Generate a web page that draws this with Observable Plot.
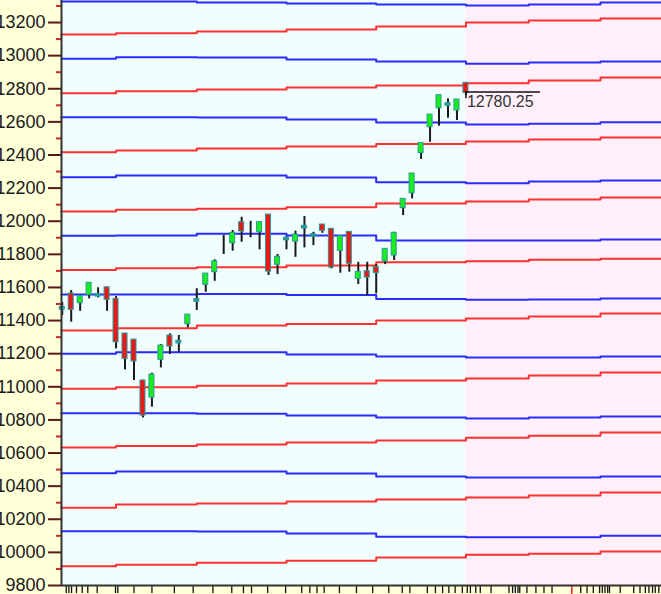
<!DOCTYPE html>
<html><head><meta charset="utf-8">
<script src="https://cdn.jsdelivr.net/npm/d3@7"></script>
<script src="https://cdn.jsdelivr.net/npm/@observablehq/plot@0.6"></script>
<style>
html,body{margin:0;padding:0;background:#ffffd8;overflow:hidden;}
#chart svg{display:block;}
</style></head><body><div id="chart"></div>
<script>
// ---- candle data (index 0..45) ----
const opens  = [11472,11557,11511,11561,11551,11595,11525,11316,11279,11032,10941,11169,11304,11268,11384,11520,11622,11698,11912,11873,11988,11960,11940,12034,11743,11891,11883,11962,11912,11974,11948,11827,11930,11658,11692,11718,11763,11799,12085,12175,12417,12574,12688,12703,12675,12830];
const highs  = [11509,11581,11541,11622,11598,11600,11545,11320,11285,11040,11082,11255,11320,11310,11430,11592,11678,11767,11914,11944,12024,11999,11988,12034,11799,11907,11940,12028,11933,11980,11954,11903,11935,11752,11752,11738,11827,11933,12129,12286,12467,12638,12755,12739,12729,12830];
const lows   = [11430,11390,11456,11531,11537,11456,11229,11102,11038,10812,10877,11114,11195,11209,11356,11461,11571,11637,11799,11819,11873,11900,11827,11672,11678,11827,11782,11839,11853,11927,11712,11686,11692,11618,11551,11561,11738,11763,12034,12135,12373,12477,12574,12622,12608,12759];
const closes = [11476,11471,11541,11622,11554,11531,11275,11175,11159,10832,11068,11243,11249,11272,11430,11524,11678,11752,11912,11924,11944,11960,11988,11702,11779,11895,11914,11966,11916,11948,11726,11903,11749,11688,11666,11692,11827,11924,12129,12282,12467,12638,12755,12707,12729,12780.25];

// ---- support / resistance lines: values at anchor indices ----
const lineAnchors = [-0.1, 6, 15, 25, 35, 45, 52, 60];
const blueLines = [
  [13327,13327,13321,13315,13309,13303,13309,13321],
  [12981,12990,12989,12977,12964,12951,12958,12964],
  [12628,12628,12626,12614,12596,12584,12588,12598],
  [12266,12276,12276,12264,12235,12229,12240,12246],
  [11912,11914,11924,11914,11883,11883,11883,11889],
  [11557,11557,11561,11555,11531,11525,11527,11533],
  [11199,11209,11209,11195,11183,11177,11177,11183],
  [10840,10840,10838,10826,10814,10808,10814,10820],
  [10478,10488,10488,10476,10458,10452,10452,10458],
  [10127,10127,10126,10114,10095,10091,10091,10101]
];
const redLines = [
  [13128,13135,13146,13158,13176,13200,13212,13224],
  [12773,12785,12795,12807,12819,12833,12850,12868],
  [12417,12427,12439,12451,12467,12481,12493,12505],
  [12058,12069,12075,12084,12107,12119,12131,12143],
  [11706,11716,11722,11732,11752,11758,11767,11773],
  [11340,11354,11370,11380,11400,11412,11424,11442],
  [10988,10997,11007,11020,11038,11050,11068,11086],
  [10633,10643,10651,10663,10675,10693,10705,10724],
  [10269,10289,10295,10307,10319,10331,10343,10361],
  [9916,9926,9938,9950,9969,9985,9991,10005]
];

// ---- axes ----
const yTicks = [9800,10000,10200,10400,10600,10800,11000,11200,11400,11600,11800,12000,12200,12400,12600,12800,13000,13200];
const yMinorTicks = [9900,10100,10300,10500,10700,10900,11100,11300,11500,11700,11900,12100,12300,12500,12700,12900,13100,13300];
const xTicks = [0.45,0.74,1.04,1.59,2.23,2.85,3.9,5.94,6.2,8,10,12.5,14.6,16.8,18.9,20.2,21.1,22.9,24.9,26.7,27.6,28.4,29.2,30.9,32.8,34.6,36.4,37.9,38.75,40.7,41.6,42.4,43.1,43.8,44.6,45.15,45.5,46.1,46.6,47.8,49.8,50.2,50.5,50.8,51.0,51.8,52.8,53.7,54.6,57.8,58.5,59.2,59.9,60.2,60.5,60.8,61.0,62.2,63.7,64.4,65.0,65.4,65.8,66.1,66.5];
const xRedTick = [56.8];
const xDomain = [-0.08, 66.8];
const yDomain = [9800, 13333];

const candles = opens.map((o, i) => ({i, o, h: highs[i], l: lows[i], c: closes[i]}));
const last = candles[candles.length - 1];

function toPoints(arr, prefix) {
  const pts = [];
  arr.forEach((vals, k) => {
    vals.forEach((v, j) => pts.push({x: lineAnchors[j], y: v, s: prefix + k}));
    pts.push({x: xDomain[1] + 0.2, y: vals[vals.length - 1], s: prefix + k});
  });
  return pts;
}
const bluePts = toPoints(blueLines, "b");
const redPts = toPoints(redLines, "r");

const bodyColor = d => Math.abs(d.o - d.c) < 10 ? "#2a9a9a" : (d.c > d.o ? "#18ee18" : "#ee1515");

const chart = Plot.plot({
  width: 661, height: 594,
  marginLeft: 61, marginRight: 0, marginTop: 0, marginBottom: 9,
  style: {background: "#ffffd8", fontFamily: "Arial, 'Liberation Sans', sans-serif"},
  x: {domain: xDomain, axis: null},
  y: {domain: yDomain, axis: null},
  marks: [
    Plot.rect([{a: xDomain[0], b: last.i}], {x1: "a", x2: "b", y1: yDomain[0], y2: yDomain[1], fill: "#f0fefe"}),
    Plot.rect([{a: last.i, b: xDomain[1]}], {x1: "a", x2: "b", y1: yDomain[0], y2: yDomain[1], fill: "#fff0fc"}),
    Plot.line(bluePts, {x: "x", y: "y", z: "s", stroke: "#2b2bff", strokeWidth: 2, curve: "step-after"}),
    Plot.line(redPts, {x: "x", y: "y", z: "s", stroke: "#ff3030", strokeWidth: 2, curve: "step-after"}),
    Plot.ruleX(candles, {x: "i", y1: "l", y2: "h", stroke: "#1a1a1a", strokeWidth: 2}),
    Plot.rect(candles.filter(d => d.o !== d.c), {
      x1: d => d.i - 0.28, x2: d => d.i + 0.28, y1: "o", y2: "c",
      fill: bodyColor, stroke: "#2a9a9a", strokeWidth: 1,
      insetTop: -1, insetBottom: -1
    }),
    // last price marker
    Plot.ruleY([last], {y: "c", x1: "i", x2: d => d.i + 8.3, stroke: "#111", strokeWidth: 1.5}),
    Plot.ruleX([last], {x: "i", y1: "c", y2: d => d.c - 40, stroke: "#111", strokeWidth: 1.5}),
    Plot.text([last], {x: "i", y: "c", text: d => d3.format(".2f")(d.c), textAnchor: "start", dx: 1, dy: 10, fontSize: 16, fill: "#333"}),
    // axes
    Plot.axisY({ticks: yTicks, tickSize: 13, tickPadding: 3, tickFormat: d => String(d), fontSize: 18, stroke: "#5a1a1a", fill: "#1a1a1a", strokeWidth: 2, label: null}),
    Plot.axisY({ticks: yMinorTicks, tickSize: 5, tickFormat: () => "", stroke: "#cc2a2a", strokeWidth: 2, label: null}),
    Plot.axisX({ticks: xTicks, tickSize: 8, tickFormat: () => "", stroke: "#111", strokeWidth: 1.3, label: null}),
    Plot.axisX({ticks: xRedTick, tickSize: 9, tickFormat: () => "", stroke: "#ff2020", strokeWidth: 1.5, label: null}),
    Plot.ruleX([xDomain[0]], {stroke: "#333", strokeWidth: 2}),
    Plot.ruleY([yDomain[0]], {stroke: "#333", strokeWidth: 2})
  ]
});
document.getElementById("chart").appendChild(chart);
</script>
</body></html>
